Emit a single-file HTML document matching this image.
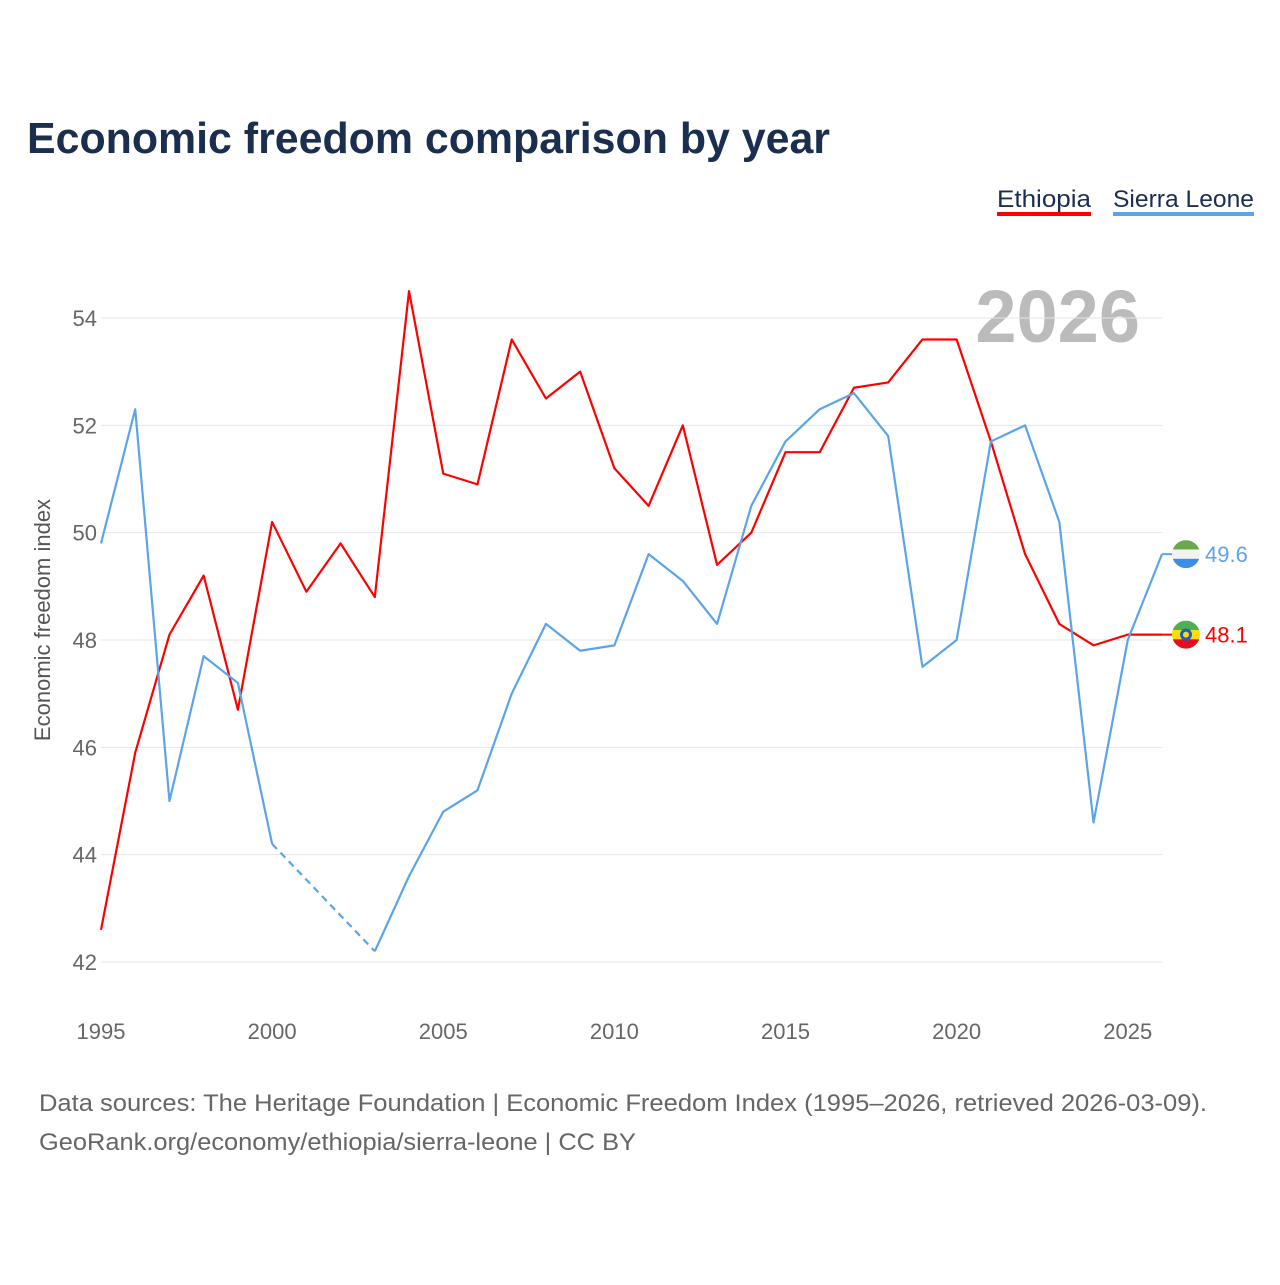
<!DOCTYPE html>
<html><head><meta charset="utf-8"><style>
body{margin:0;background:#fff;width:1280px;height:1280px;overflow:hidden;font-family:"Liberation Sans",sans-serif}
</style></head><body>
<svg width="1280" height="1280" viewBox="0 0 1280 1280">
<rect width="1280" height="1280" fill="#fff"/>
<text x="27" y="153" font-size="44" font-weight="bold" fill="#1a2e4f" textLength="803" lengthAdjust="spacingAndGlyphs">Economic freedom comparison by year</text>
<g>
<text x="997" y="207" font-size="24" fill="#1a2e4f" textLength="94" lengthAdjust="spacingAndGlyphs">Ethiopia</text>
<rect x="997" y="212" width="94" height="4" fill="#f00"/>
<text x="1113" y="207" font-size="24" fill="#1a2e4f" textLength="141" lengthAdjust="spacingAndGlyphs">Sierra Leone</text>
<rect x="1113" y="212" width="141" height="4" fill="#5ba4e8"/>
</g>
<text x="1140" y="342" font-size="74" font-weight="bold" fill="#bbb" text-anchor="end">2026</text>
<g id="grid"></g><g id="lines"></g><g id="labels"></g>
<text transform="translate(50,620) rotate(-90)" font-size="22" fill="#555" text-anchor="middle">Economic freedom index</text>
<text x="39" y="1111" font-size="24" fill="#666" textLength="1168" lengthAdjust="spacingAndGlyphs">Data sources: The Heritage Foundation | Economic Freedom Index (1995–2026, retrieved 2026-03-09).</text>
<text x="39" y="1150" font-size="24" fill="#666" textLength="597" lengthAdjust="spacingAndGlyphs">GeoRank.org/economy/ethiopia/sierra-leone | CC BY</text>
</svg>
<script>
const years=[1995,1996,1997,1998,1999,2000,2001,2002,2003,2004,2005,2006,2007,2008,2009,2010,2011,2012,2013,2014,2015,2016,2017,2018,2019,2020,2021,2022,2023,2024,2025,2026];
const ethiopia=[42.6,45.9,48.1,49.2,46.7,50.2,48.9,49.8,48.8,54.5,51.1,50.9,53.6,52.5,53.0,51.2,50.5,52.0,49.4,50.0,51.5,51.5,52.7,52.8,53.6,53.6,51.7,49.6,48.3,47.9,48.1,48.1];
const sierraLeone=[49.8,52.3,45.0,47.7,47.2,44.2,null,null,42.2,43.6,44.8,45.2,47.0,48.3,47.8,47.9,49.6,49.1,48.3,50.5,51.7,52.3,52.6,51.8,47.5,48.0,51.7,52.0,50.2,44.6,48.0,49.6];
const yTicks=[42,44,46,48,50,52,54];
const xTicks=[1995,2000,2005,2010,2015,2020,2025];
const X=y=>101+(y-1995)*(1162-101)/31;
const Y=v=>962-(v-42)*(962-318)/12;
const NS='http://www.w3.org/2000/svg';
function mk(t,a,p){const e=document.createElementNS(NS,t);for(const k in a)e.setAttribute(k,a[k]);p.appendChild(e);return e;}
const grid=document.getElementById('grid'),lines=document.getElementById('lines'),labels=document.getElementById('labels');
yTicks.forEach(v=>{
 const l=mk('line',{x1:101,x2:1162,y1:Y(v),y2:Y(v),stroke:'#e6e6e6','stroke-width':1},grid);
 
 
 const t=mk('text',{x:97,y:Y(v)+8,'font-size':22,fill:'#666','text-anchor':'end'},grid);t.textContent=v;
 
 
});
xTicks.forEach(y=>{
 const t=mk('text',{x:X(y),y:1039,'font-size':22,fill:'#666','text-anchor':'middle'},grid);t.textContent=y;
 
 
});
function draw(vals,color,name){
 let segs=[],cur=[];
 vals.forEach((v,i)=>{if(v==null){if(cur.length)segs.push(cur);cur=[];}else cur.push([X(years[i]),Y(v)]);});
 if(cur.length)segs.push(cur);
 segs.forEach(s=>{const p=mk('polyline',{points:s.map(q=>q.join(',')).join(' '),fill:'none',stroke:color,'stroke-width':2.2,'stroke-linejoin':'round'},lines);
  
  });
 for(let i=0;i<segs.length-1;i++){const a=segs[i][segs[i].length-1],b=segs[i+1][0];
  const d=mk('line',{x1:a[0],y1:a[1],x2:b[0],y2:b[1],stroke:color,'stroke-width':2.2,'stroke-dasharray':'7,5'},lines);
  
  }
}
draw(ethiopia,'#f00','ethiopia');
draw(sierraLeone,'#5ba4e8','sierra-leone');
function endLabel(v,color,name,flag){
 const cx=1186,cy=Y(v);
 const g=mk('g',{},labels);
 
 
 mk('line',{x1:1162,x2:1172,y1:cy,y2:cy,stroke:color,'stroke-width':2},g);
 const cp=mk('clipPath',{id:'c'+name},g);
 mk('circle',{cx:cx,cy:cy,r:14},cp);
 flag.forEach((c,i)=>mk('rect',{x:cx-14,y:cy-14+i*28/3,width:28,height:28/3+0.5,fill:c,'clip-path':'url(#c'+name+')'},g));
 if(name==='ethiopia'){mk('circle',{cx:cx,cy:cy,r:6,fill:'#1b5bd1'},g);mk('circle',{cx:cx,cy:cy,r:3,fill:'#fcdd09'},g);}
 const t=mk('text',{x:1205,y:cy+8,'font-size':22,fill:color},g);t.textContent=v.toFixed(1);
}
endLabel(sierraLeone[sierraLeone.length-1],'#5ba4e8','sierra-leone',['#6aa84f','#f2f2f2','#3d8fe6']);
endLabel(ethiopia[ethiopia.length-1],'#f00','ethiopia',['#4caf50','#fcdd09','#e3101a']);
</script>
</body></html>
